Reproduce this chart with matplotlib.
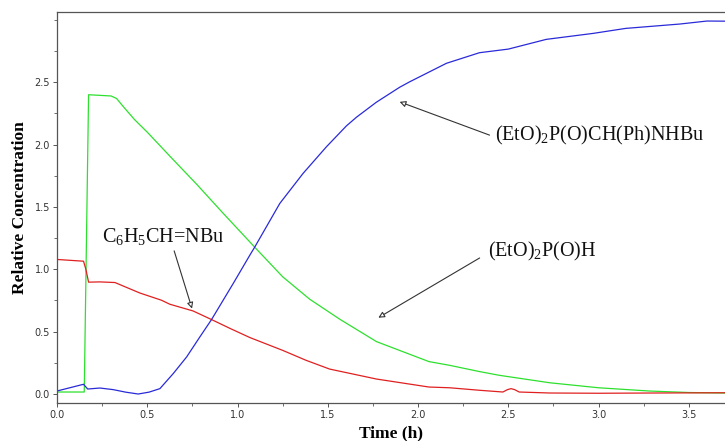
import matplotlib
matplotlib.use("Agg")
import matplotlib.pyplot as plt
from matplotlib.ticker import MultipleLocator, FormatStrFormatter

plt.rcParams['mathtext.fontset'] = 'custom'
plt.rcParams['mathtext.rm'] = 'Liberation Serif'
plt.rcParams['mathtext.it'] = 'Liberation Serif:italic'
plt.rcParams['mathtext.bf'] = 'Liberation Serif:bold'

# Data
t_green = [0, 0.151, 0.175, 0.30, 0.33, 0.37, 0.43, 0.50, 0.63, 0.775, 0.92, 1.10, 1.25, 1.40,
           1.566, 1.77, 2.06, 2.175, 2.34, 2.45, 2.73, 3.0, 3.28, 3.5, 3.70]
v_green = [0.016, 0.016, 2.40, 2.39, 2.37, 2.30, 2.20, 2.10, 1.90, 1.68, 1.45, 1.17, 0.94, 0.76,
           0.60, 0.42, 0.26, 0.23, 0.18, 0.15, 0.09, 0.05, 0.024, 0.012, 0.008]

t_red = [0, 0.147, 0.16, 0.175, 0.238, 0.321, 0.459, 0.579, 0.625, 0.754, 0.856, 0.96, 1.068,
         1.25, 1.38, 1.51, 1.77, 2.06, 2.175, 2.34, 2.47, 2.495, 2.515, 2.535, 2.56, 2.73, 3.0,
         3.3, 3.70]
v_red = [1.079, 1.065, 1.0, 0.897, 0.899, 0.894, 0.81, 0.752, 0.72, 0.666, 0.597, 0.525, 0.453,
         0.35, 0.27, 0.20, 0.12, 0.056, 0.05, 0.03, 0.016, 0.035, 0.043, 0.035, 0.016, 0.008,
         0.006, 0.008, 0.01]

t_blue = [0, 0.147, 0.17, 0.238, 0.312, 0.38, 0.45, 0.51, 0.57, 0.644, 0.718, 0.791, 0.856,
          0.976, 1.068, 1.096, 1.234, 1.363, 1.492, 1.603, 1.659, 1.769, 1.898, 1.954, 2.157,
          2.34, 2.50, 2.71, 2.97, 3.15, 3.45, 3.60, 3.70]
v_blue = [0.024, 0.078, 0.04, 0.048, 0.035, 0.015, 0.0, 0.015, 0.043, 0.164, 0.297, 0.457, 0.597,
          0.886, 1.113, 1.18, 1.528, 1.769, 1.982, 2.15, 2.22, 2.34, 2.46, 2.504, 2.652,
          2.737, 2.766, 2.844, 2.892, 2.932, 2.967, 2.991, 2.99]

label_imine = r'C$_6$H$_5$CH=NBu'
label_product = r'(EtO)$_2$P(O)CH(Ph)NHBu'
label_phos = r'(EtO)$_2$P(O)H'

fig = plt.figure(figsize=(7.25, 4.41), dpi=100)
ax = fig.add_axes([0.0786, 0.0862, 1.0 - 0.0786, 0.9735 - 0.0862])

ax.plot(t_green, v_green, color='#2ee02e', lw=0.9)
ax.plot(t_red, v_red, color='#e02020', lw=0.9)
ax.plot(t_blue, v_blue, color='#2a2ad8', lw=0.9)

ax.set_xlim(0, 3.70)
ax.set_ylim(-0.072, 3.066)
ax.xaxis.set_major_locator(MultipleLocator(0.5))
ax.xaxis.set_minor_locator(MultipleLocator(0.25))
ax.yaxis.set_minor_locator(MultipleLocator(0.25))
ax.set_yticks([0, 0.5, 1.0, 1.5, 2.0, 2.5])
ax.xaxis.set_major_formatter(FormatStrFormatter('%.1f'))
ax.yaxis.set_major_formatter(FormatStrFormatter('%.1f'))
ax.tick_params(which='major', length=3, width=0.7, color='#555555', labelsize=7,
               labelcolor='#333333', pad=2)
ax.tick_params(which='minor', length=2, width=0.6, color='#555555')

for s in ['left', 'bottom', 'top']:
    ax.spines[s].set_color('#555555')
    ax.spines[s].set_linewidth(0.9)
ax.spines['right'].set_visible(False)

ax.set_xlabel('Time (h)', family='Liberation Serif', fontweight='bold', fontsize=12.5, labelpad=4)
ax.set_ylabel('Relative Concentration', family='Liberation Serif', fontweight='bold',
              fontsize=12.5, labelpad=5)

ap = dict(arrowstyle='-|>', lw=0.8, ec='#333333', fc='white', mutation_scale=9,
          shrinkA=0, shrinkB=0)
ax.annotate('', xy=(0.748, 0.685), xytext=(0.649, 1.148), arrowprops=ap)
ax.annotate('', xy=(1.898, 2.343), xytext=(2.396, 2.076), arrowprops=ap)
ax.annotate('', xy=(1.78, 0.612), xytext=(2.341, 1.091), arrowprops=ap)

tk = dict(family='Liberation Serif', fontsize=14.5, ha='left', va='baseline', color='#111111')
ax.text(0.249, 1.22, label_imine, **tk)
ax.text(2.424, 2.036, label_product, **tk)
ax.text(2.387, 1.10, label_phos, **tk)

fig.savefig('out.png', dpi=100)
